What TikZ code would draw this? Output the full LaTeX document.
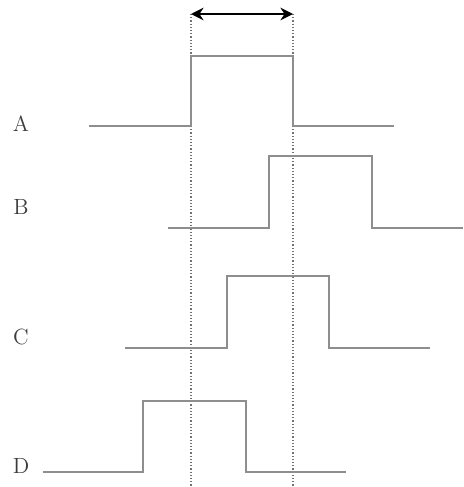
\documentclass[tikz,border=0pt]{standalone}
\usetikzlibrary{arrows.meta}
\definecolor{wavegray}{HTML}{8E8E8E}
\definecolor{labelgray}{HTML}{3C3C3C}
\tikzset{wave/.style={draw=wavegray,line width=1pt,line join=miter},
  marker/.style={draw=wavegray!80!black,densely dotted,line width=0.6pt},
  span/.style={{Stealth[length=2.2mm,width=2.2mm]}-{Stealth[length=2.2mm,width=2.2mm]},line width=1.3pt,black},
  sig/.style={font=\fontsize{11}{13}\selectfont,text=labelgray,inner sep=0pt}}

\begin{document}
\begin{tikzpicture}[x=0.5pt,y=-0.5pt]
\useasboundingbox (0,0) rectangle (464,487);
% markers for the pulse width
\coordinate (lt) at (191,14); \coordinate (rt) at (293,14);
\coordinate (lb) at (191,487); \coordinate (rb) at (293,487);
\draw[marker] (lt)--(lb);\draw[marker] (rt)--(rb);
\draw[span] (lt)--(rt);
% signal names
\node[sig] (a) at (21,124) {A};
\node[sig] (b) at (21,207) {B};
\node[sig] (c) at (21,337) {C};
\node[sig] (d) at (21,466) {D};
% waveforms
\draw[wave] (89,126)--(191,126)--(191,56)--(293,56)--(293,126)--(394,126);
\draw[wave] (168,228)--(269,228)--(269,156)--(372,156)--(372,228)--(463,228);
\draw[wave] (125,348)--(227,348)--(227,276)--(329,276)--(329,348)--(430,348);
\draw[wave] (43,472)--(143,472)--(143,401)--(246,401)--(246,472)--(346,472);
\end{tikzpicture}
\end{document}
